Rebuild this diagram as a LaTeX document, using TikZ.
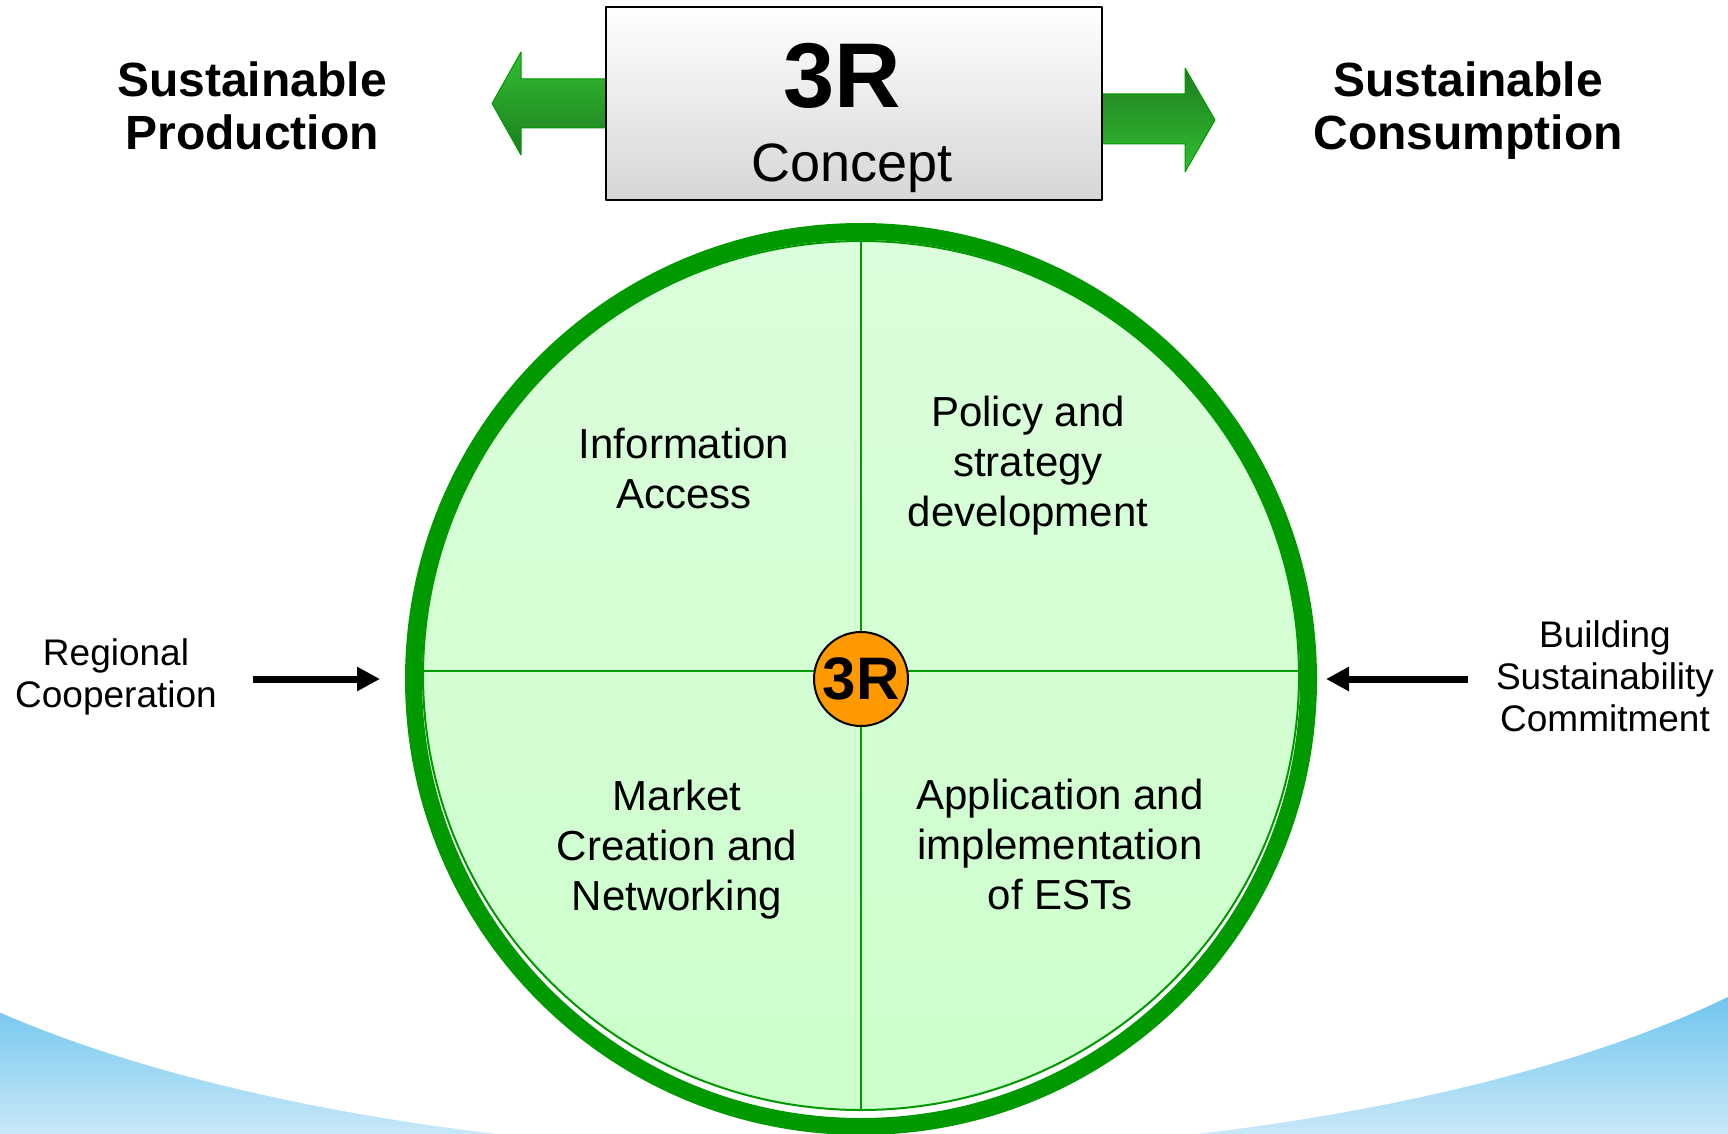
\documentclass[tikz,border=0pt]{standalone}
\usepackage{fontspec}
\setmainfont{Liberation Sans}
\usetikzlibrary{arrows.meta,shapes.geometric}
\definecolor{ringgreen}{RGB}{0,153,0}
\definecolor{disctop}{RGB}{219,253,219}
\definecolor{discbot}{RGB}{204,255,204}
\definecolor{arrowlight}{RGB}{50,190,50}
\definecolor{arrowdark}{RGB}{30,125,30}
\definecolor{huborange}{RGB}{255,153,0}
\definecolor{skytop}{RGB}{108,196,238}
\definecolor{skybot}{RGB}{200,232,248}
\definecolor{boxgray}{RGB}{214,214,214}
\begin{document}
\begin{tikzpicture}[x=0.5pt,y=-0.5pt,line join=round]
	\tikzset{every node/.style={inner sep=0pt,outer sep=0pt,align=center}}
	\tikzset{sidetitle/.style={font=\fontsize{24}{26.5}\selectfont\bfseries},
		sidetext/.style={font=\fontsize{18.5}{21}\selectfont},
		quadtext/.style={font=\fontsize{21}{25}\selectfont},
		conceptbox/.style={draw=black,line width=1pt,top color=white,bottom color=boxgray,minimum width=248pt,minimum height=96.5pt},
		disc/.style={ellipse,draw=ringgreen,line width=1pt,top color=disctop,bottom color=discbot,minimum width=438pt,minimum height=434.5pt},
		ring/.style={circle,draw=ringgreen,line width=8.5pt,minimum size=447.5pt},
		quadline/.style={draw=ringgreen,line width=1.4pt},
		hub/.style={circle,draw=black,line width=1pt,fill=huborange,minimum size=47pt,font=\fontsize{30}{30}\selectfont\bfseries},
		pointer/.style={-{Triangle[length=11.5pt,width=11.5pt]},line width=3.5pt},
		greenarrow/.style={draw=ringgreen,line width=0.5pt}}
	\useasboundingbox (0,0) rectangle (1728,1134);
	\clip (0,0) rectangle (1728,1134);
	\shade[top color=skytop,bottom color=skybot] (0,990) rectangle (1728,1134);
	\fill[white] (847,781) ellipse [x radius=540pt,y radius=186.5pt];
	\shadedraw[greenarrow,top color=arrowlight,bottom color=arrowdark] (606,79)--(521,79)--(521,52)--(492,103.5)--(521,155)--(521,128)--(606,128)--cycle;
	\shadedraw[greenarrow,top color=arrowdark,bottom color=arrowlight] (1100,94)--(1185,94)--(1185,68)--(1215,120)--(1185,172)--(1185,144)--(1100,144)--cycle;
	\node[conceptbox] (concept) at (853.5,103.5) {};
	\node[font=\fontsize{46}{46}\selectfont\bfseries,anchor=base] (bigr) at (842,108) {3R};
	\node[font=\fontsize{27}{27}\selectfont,anchor=base] (concepttext) at (852,182) {Concept};
	\node[sidetitle] (production) at (252,106) {Sustainable\\Production};
	\node[sidetitle] (consumption) at (1468,111) {Sustainable\\Consumption};
	\node[disc] (disc) at (861,675.5) {};
	\node[ring] (ring) at (861,679) {};
	\draw[quadline] (disc.north)--(disc.south);
	\draw[quadline] ([yshift=2.25pt]disc.west)--([yshift=2.25pt]disc.east);
	\node[hub] (hub) at (861,679) {3R};
	\node[quadtext] (info) at (684,468.5) {Information\\Access};
	\node[quadtext] (policy) at (1028,466) {Policy and\\strategy\\development};
	\node[quadtext] (market) at (677,850) {Market\\Creation and\\Networking};
	\node[quadtext] (apply) at (1060,844.5) {Application and\\implementation\\of ESTs};
	\node[sidetext] (regional) at (116,677) {Regional\\Cooperation};
	\node[sidetext] (building) at (1605,676) {Building\\Sustainability\\Commitment};
	\coordinate (regionalstart) at (253,679);
	\coordinate (buildingstart) at (1468,679);
	\draw[pointer,shorten >=16.75pt] (regionalstart)--(ring.west);
	\draw[pointer,shorten >=8.75pt] (buildingstart)--(ring.east);
\end{tikzpicture}
\end{document}
